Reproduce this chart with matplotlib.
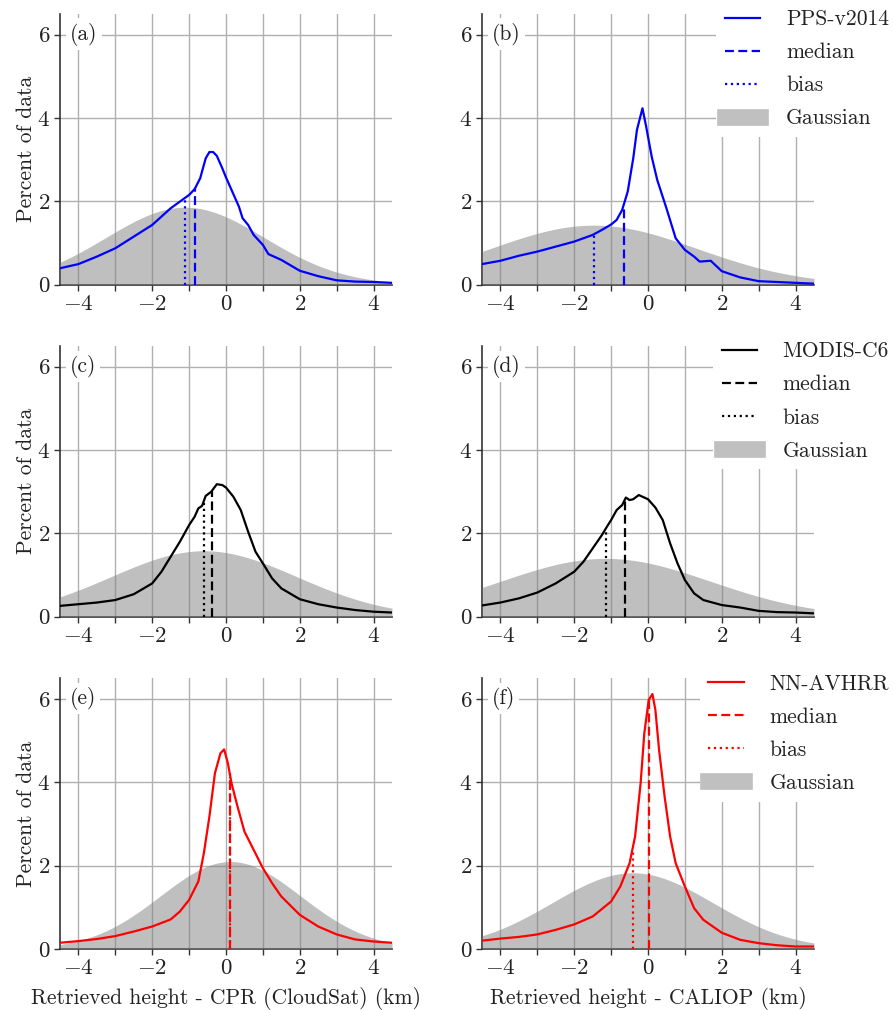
import numpy as np
import matplotlib
matplotlib.use("Agg")
import matplotlib.pyplot as plt
from matplotlib.lines import Line2D

plt.rcParams['font.family'] = 'serif'
plt.rcParams['font.serif'] = ['cmr10']
plt.rcParams['mathtext.fontset'] = 'cm'
plt.rcParams['axes.formatter.use_mathtext'] = True
plt.rcParams['font.size'] = 15.5

# --- data ---
# (a) PPS-v2014 vs CPR (CloudSat)
x_a = [-4.5, -4, -3.5, -3, -2.5, -2, -1.5, -1.25, -1, -0.85, -0.7, -0.55, -0.45, -0.35,
       -0.25, -0.1, 0, 0.25, 0.35, 0.45, 0.6, 0.75, 1, 1.15, 1.5, 2, 2.5, 3, 3.5, 4, 4.5]
y_a = [0.39, 0.49, 0.67, 0.87, 1.15, 1.43, 1.83, 1.99, 2.15, 2.29, 2.55, 3.03, 3.18, 3.18,
       3.09, 2.79, 2.57, 2.07, 1.87, 1.59, 1.43, 1.19, 0.95, 0.73, 0.59, 0.33, 0.20, 0.10,
       0.07, 0.06, 0.04]
# (b) PPS-v2014 vs CALIOP
x_b = [-4.5, -4, -3.5, -3, -2.5, -2, -1.5, -1.25, -1, -0.85, -0.7, -0.55, -0.4, -0.3,
       -0.15, -0.05, 0.1, 0.25, 0.5, 0.75, 1, 1.25, 1.4, 1.7, 2, 2.5, 3, 3.5, 4, 4.5]
y_b = [0.49, 0.57, 0.69, 0.79, 0.91, 1.03, 1.19, 1.31, 1.44, 1.55, 1.79, 2.23, 3.03, 3.71,
       4.23, 3.79, 3.07, 2.51, 1.83, 1.11, 0.83, 0.67, 0.55, 0.57, 0.32, 0.17, 0.08, 0.06,
       0.04, 0.02]
# (c) MODIS-C6 vs CPR (CloudSat)
x_c = [-4.5, -4, -3.5, -3, -2.5, -2, -1.75, -1.5, -1.25, -1, -0.85, -0.75, -0.65, -0.55,
       -0.4, -0.25, -0.1, 0, 0.2, 0.4, 0.6, 0.8, 1, 1.25, 1.5, 2, 2.5, 3, 3.5, 4, 4.5]
y_c = [0.26, 0.30, 0.34, 0.40, 0.54, 0.80, 1.08, 1.44, 1.80, 2.20, 2.40, 2.60, 2.66, 2.90,
       3.00, 3.18, 3.16, 3.10, 2.88, 2.56, 2.04, 1.56, 1.28, 0.92, 0.68, 0.42, 0.30, 0.22,
       0.16, 0.12, 0.10]
# (d) MODIS-C6 vs CALIOP
x_d = [-4.5, -4, -3.5, -3, -2.5, -2, -1.75, -1.5, -1.25, -1.1, -1, -0.85, -0.7, -0.6,
       -0.5, -0.4, -0.25, -0.1, 0, 0.2, 0.4, 0.6, 0.8, 1, 1.25, 1.5, 2, 2.5, 3, 3.5, 4, 4.5]
y_d = [0.27, 0.34, 0.44, 0.58, 0.80, 1.08, 1.32, 1.64, 1.96, 2.18, 2.32, 2.56, 2.68, 2.86,
       2.80, 2.82, 2.92, 2.86, 2.82, 2.62, 2.32, 1.76, 1.28, 0.88, 0.56, 0.40, 0.28, 0.22,
       0.14, 0.11, 0.10, 0.08]
# (e) NN-AVHRR vs CPR (CloudSat)
x_e = [-4.5, -4, -3.5, -3, -2.5, -2, -1.5, -1.25, -1, -0.75, -0.6, -0.45, -0.3, -0.15,
       -0.05, 0.05, 0.15, 0.3, 0.5, 0.75, 1, 1.25, 1.5, 2, 2.5, 3, 3.5, 4, 4.5]
y_e = [0.15, 0.19, 0.24, 0.31, 0.42, 0.54, 0.71, 0.90, 1.18, 1.62, 2.30, 3.18, 4.22, 4.70,
       4.79, 4.46, 3.98, 3.46, 2.82, 2.38, 1.94, 1.58, 1.26, 0.82, 0.54, 0.35, 0.23, 0.18,
       0.15]
# (f) NN-AVHRR vs CALIOP
x_f = [-4.5, -4, -3.5, -3, -2.5, -2, -1.5, -1, -0.75, -0.5, -0.35, -0.2, -0.1, 0.02,
       0.12, 0.2, 0.3, 0.45, 0.6, 0.75, 1, 1.25, 1.5, 2, 2.5, 3, 3.5, 4, 4.5]
y_f = [0.20, 0.25, 0.29, 0.35, 0.46, 0.59, 0.78, 1.14, 1.50, 2.06, 2.70, 3.98, 5.18, 5.98,
       6.12, 5.74, 4.78, 3.66, 2.70, 2.06, 1.50, 0.98, 0.70, 0.39, 0.22, 0.14, 0.09, 0.06,
       0.06]

medians = [-0.83, -0.66, -0.37, -0.62, 0.10, 0.04]
biases = [-1.11, -1.47, -0.60, -1.15, 0.12, -0.42]
gauss_sd = [2.15, 2.8, 2.52, 2.85, 1.90, 2.18]
bin_width = 0.1

panel_labels = ['(a)', '(b)', '(c)', '(d)', '(e)', '(f)']
products = ['PPS-v2014', 'MODIS-C6', 'NN-AVHRR']
colors = ['#0000ff', 'black', '#ff0000']
xlabels = ['Retrieved height - CPR (CloudSat) (km)', 'Retrieved height - CALIOP (km)']

curves = [(x_a, y_a), (x_b, y_b), (x_c, y_c), (x_d, y_d), (x_e, y_e), (x_f, y_f)]

fig = plt.figure(figsize=(8.94, 10.10), dpi=100)
lefts = [60 / 894, 482 / 894]
bottoms = [1 - 284.5 / 1010, 1 - 616.7 / 1010, 1 - 949 / 1010]
w = 332 / 894
h = 270.8 / 1010

xg = np.linspace(-4.5, 4.5, 301)
for i in range(6):
    row, col = i // 2, i % 2
    ax = fig.add_axes([lefts[col], bottoms[row], w, h])
    c = colors[row]
    x, y = curves[i]

    # gaussian with same mean (bias) and std
    mu, sd = biases[i], gauss_sd[i]
    g = 100 * bin_width / (sd * np.sqrt(2 * np.pi)) * np.exp(-(xg - mu) ** 2 / (2 * sd ** 2))
    ax.fill_between(xg, 0, g, color='gray', alpha=0.5, lw=0, zorder=3)

    ax.plot(x, y, color=c, lw=1.6, zorder=4)
    ax.plot([medians[i]] * 2, [0, np.interp(medians[i], x, y)], color=c, ls='--', lw=1.6,
            dashes=(4, 2), zorder=4)
    ax.plot([biases[i]] * 2, [0, np.interp(biases[i], x, y)], color=c, ls=':', lw=1.6,
            zorder=4)

    ax.set_xlim(-4.5, 4.5)
    ax.set_ylim(0, 6.5)
    ax.set_xticks([-4, -2, 0, 2, 4])
    ax.set_xticks([-3, -1, 1, 3], minor=True)
    ax.set_yticks([0, 2, 4, 6])
    ax.grid(True, which='both', axis='x', color='#b0b0b0', lw=1, zorder=1)
    ax.grid(True, which='major', axis='y', color='#b0b0b0', lw=1, zorder=1)
    ax.set_axisbelow(True)
    for s in ['top', 'right']:
        ax.spines[s].set_visible(False)
    for s in ['left', 'bottom']:
        ax.spines[s].set_color('#333333')
        ax.spines[s].set_linewidth(1.2)
    ax.tick_params(which='both', direction='out', length=4, width=1, colors='#333333',
                   labelcolor='#222222', labelsize=16.5, pad=3)

    ax.text(0.03, 0.925, panel_labels[i], transform=ax.transAxes, ha='left', va='center',
            fontsize=15.5, color='#222222', zorder=6,
            bbox=dict(facecolor='white', edgecolor='none', pad=3))

    if col == 0:
        ax.set_ylabel('Percent of data', fontsize=15.5, color='#222222', labelpad=1)
    if row == 2:
        ax.set_xlabel(xlabels[col], fontsize=15.5, color='#222222', labelpad=6)
    if col == 1:
        handles = [Line2D([], [], color=c, lw=1.6),
                   Line2D([], [], color=c, lw=1.6, ls='--', dashes=(4, 2)),
                   Line2D([], [], color=c, lw=1.6, ls=':'),
                   Line2D([], [], color='#c0c0c0', lw=12, solid_capstyle='projecting')]
        leg = fig.legend(handles, [products[row], 'median', 'bias', 'Gaussian'],
                         loc='upper right',
                         bbox_to_anchor=(1.004, bottoms[row] + h + 0.0125),
                         frameon=True, fancybox=False, edgecolor='none', framealpha=1,
                         fontsize=15.5, handlelength=1.63, handletextpad=1.2,
                         labelspacing=0.63, borderaxespad=0, borderpad=0.4)
        for t in leg.get_texts():
            t.set_color('#222222')
        leg.set_zorder(10)

fig.savefig('out.png', dpi=100)
